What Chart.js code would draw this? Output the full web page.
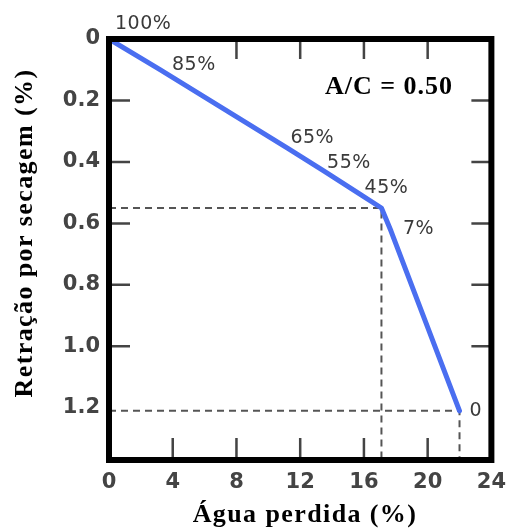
<!DOCTYPE html>
<html>
<head>
<meta charset="utf-8">
<script src="https://cdn.jsdelivr.net/npm/chart.js@4"></script>
<style>html, body { margin: 0; padding: 0; background: #fff; }</style>
</head>
<body>
<canvas id="shrink-chart" width="516" height="528"></canvas>
<script>
// Chart data
const waterLoss = [0, 3.2, 11.2, 13.5, 15.6, 17.1, 17.7, 22.0];
const shrinkage = [0, 0.10, 0.355, 0.43, 0.50, 0.55, 0.625, 1.21];
const pointLabels = ["100%", "85%", "65%", "55%", "45%", "", "7%", "0"];
const xTicks = [0, 4, 8, 12, 16, 20, 24];
const yTicks = [0, 0.2, 0.4, 0.6, 0.8, 1.0, 1.2];
const xTopTicks = [8, 12, 16, 20];
const xBottomTicks = [4, 8, 12, 16, 20];
const yInnerTicks = [0.2, 0.4, 0.6, 0.8, 1.0];
const kinkIndex = 5;
const endIndex = 7;
const xMax = 24;
const yMax = 1.37;
const ratioText = "A/C = 0.50";
const xTitle = "Água perdida (%)";
const yTitle = "Retração por secagem (%)";

// Styles / placement
const lineColor = "#4a6ef0";
const guideColor = "#555";
const textColor = "#3a3a3a";
const labelOffsets = [[6, -15], [12, -5], [3, -10], [3, -8], [7, -5], [0, 0], [12, -2], [10, 0]];
const ratioAt = [13.55, 0.157];

const toPoints = (xs, ys) => xs.map((v, i) => ({ x: v, y: ys[i] }));

const kinkX = waterLoss[kinkIndex], kinkY = shrinkage[kinkIndex];
const endX = waterLoss[endIndex], endY = shrinkage[endIndex];

const chartDataSets = [
	{
		data: toPoints(waterLoss, shrinkage),
		borderColor: lineColor,
		borderWidth: 5,
		borderJoinStyle: "round",
		borderCapStyle: "round",
		pointRadius: 0,
		tension: 0
	},
	{
		data: toPoints([0, kinkX, kinkX], [kinkY, kinkY, yMax]),
		borderColor: guideColor,
		borderWidth: 2,
		borderDash: [7, 5],
		pointRadius: 0
	},
	{
		data: toPoints([0, endX, endX], [endY, endY, yMax]),
		borderColor: guideColor,
		borderWidth: 2,
		borderDash: [7, 5],
		pointRadius: 0
	}
];

// Frame, inward ticks and text annotations
const framePlugin = {
	id: "frame",
	afterDraw(chart) {
		const { ctx, chartArea: a, scales: { x, y } } = chart;
		ctx.save();
		ctx.strokeStyle = "#444";
		ctx.lineWidth = 2.5;
		ctx.beginPath();
		yInnerTicks.forEach(v => {
			const py = y.getPixelForValue(v);
			ctx.moveTo(a.left, py); ctx.lineTo(a.left + 21, py);
			ctx.moveTo(a.right, py); ctx.lineTo(a.right - 20, py);
		});
		xTopTicks.forEach(v => {
			const px = x.getPixelForValue(v);
			ctx.moveTo(px, a.top); ctx.lineTo(px, a.top + 20);
		});
		xBottomTicks.forEach(v => {
			const px = x.getPixelForValue(v);
			ctx.moveTo(px, a.bottom); ctx.lineTo(px, a.bottom - 22);
		});
		ctx.stroke();

		ctx.strokeStyle = "#000";
		ctx.lineWidth = 6;
		ctx.strokeRect(a.left, a.top, a.right - a.left, a.bottom - a.top);

		// point labels
		ctx.fillStyle = textColor;
		ctx.font = "19px 'DejaVu Sans'";
		ctx.letterSpacing = "0.5px";
		ctx.textAlign = "left";
		ctx.textBaseline = "middle";
		pointLabels.forEach((t, i) => {
			if (!t) return;
			ctx.fillText(t, x.getPixelForValue(waterLoss[i]) + labelOffsets[i][0], y.getPixelForValue(shrinkage[i]) + labelOffsets[i][1]);
		});

		// ratio annotation
		ctx.fillStyle = "#000";
		ctx.font = "bold 26px 'Liberation Serif'";
		ctx.letterSpacing = "1px";
		ctx.fillText(ratioText, x.getPixelForValue(ratioAt[0]), y.getPixelForValue(ratioAt[1]));

		// axis titles
		ctx.letterSpacing = "1.4px";
		ctx.textAlign = "center";
		ctx.fillText(xTitle, 305, 515);
		ctx.translate(25, 233);
		ctx.rotate(-Math.PI / 2);
		ctx.fillText(yTitle, 0, 0);
		ctx.restore();
		ctx.letterSpacing = "0px";
	}
};

const tickFont = { family: "'DejaVu Sans'", size: 21, weight: "bold" };

new Chart(document.getElementById("shrink-chart"), {
	type: "line",
	data: { datasets: chartDataSets },
	options: {
		responsive: false,
		animation: false,
		events: [],
		layout: { padding: { top: 39, right: 19, left: 0, bottom: 0 } },
		plugins: { legend: { display: false }, tooltip: { enabled: false } },
		scales: {
			x: {
				type: "linear",
				min: 0,
				max: xMax,
				afterBuildTicks: s => { s.ticks = xTicks.map(v => ({ value: v })); },
				afterFit: s => { s.height = 68; },
				grid: { display: false, drawTicks: false },
				border: { display: false },
				ticks: { font: tickFont, color: "#444", padding: 10, autoSkip: false, maxRotation: 0 }
			},
			y: {
				type: "linear",
				reverse: true,
				min: 0,
				max: yMax,
				afterBuildTicks: s => { s.ticks = yTicks.map(v => ({ value: v })); },
				afterFit: s => { s.width = 109; },
				grid: { display: false, drawTicks: false },
				border: { display: false },
				ticks: {
					font: tickFont,
					color: "#444",
					padding: 9,
					callback: v => (v === 0 ? "0" : v.toFixed(1))
				}
			}
		}
	},
	plugins: [framePlugin]
});
</script>
</body>
</html>
